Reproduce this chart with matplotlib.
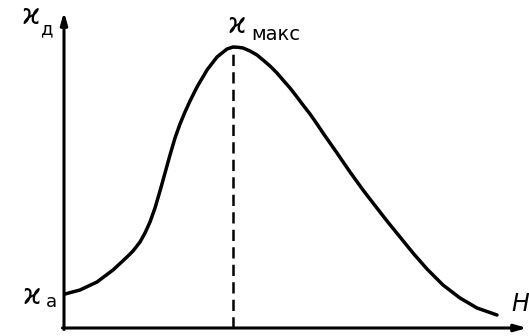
import matplotlib.pyplot as plt
import numpy as np

# кривая ϰ_д(H), значения (условные единицы)
H = [1, 16, 33, 49, 63, 69, 76, 81, 86, 91, 96, 101, 106, 111, 116, 121,
     126, 133, 143, 153, 163, 169, 174, 179, 186, 193, 199, 206, 213, 219,
     226, 233, 239, 246, 253, 259, 266, 273, 286, 299, 309, 323, 336, 349,
     363, 379, 396, 413, 433]
kappa = [34, 38, 46, 58, 71, 77, 86, 95, 106, 120, 137, 155, 173, 190, 204,
         216, 227, 241, 258, 271, 279, 281, 280.7, 280, 277, 273, 268, 262,
         255, 248, 240, 231, 223, 214, 204, 195, 185, 175, 156, 138, 125,
         107, 91, 75, 59, 43, 30, 20, 13]

H = np.array(H)
kappa = np.array(kappa)
i_max = np.argmax(kappa)

fig = plt.figure(figsize=(5.29, 3.36), dpi=100)
ax = fig.add_axes([0, 0, 1, 1])
ax.set_xlim(-64, 465)
ax.set_ylim(-8, 328)
ax.axis("off")

# оси со стрелками
arrow = dict(arrowstyle="-|>,head_length=0.7,head_width=0.2", lw=2.2, color="black",
             shrinkA=0, shrinkB=0)
ax.annotate("", xy=(0, 316), xytext=(0, -1.5), arrowprops=arrow)
ax.annotate("", xy=(463, 0), xytext=(-1.5, 0), arrowprops=arrow)

ax.plot(H, kappa, color="black", lw=2.5, solid_capstyle="round",
        solid_joinstyle="round")
ax.plot([H[i_max], H[i_max]], [0, kappa[i_max]], color="black", lw=1.8,
        linestyle=(0, (4.5, 2.5)))

fs = 20
sub = 14
ax.text(-33, 312, "ϰ", fontsize=fs, ha="center", va="center")
ax.text(-23, 299, "д", fontsize=sub - 1, ha="left", va="center")
ax.text(-32, 32, "ϰ", fontsize=fs, ha="center", va="center")
ax.text(-18, 26, "а", fontsize=sub - 1, ha="left", va="center")
ax.text(173, 303, "ϰ", fontsize=fs, ha="center", va="center")
ax.text(187, 294, "макс", fontsize=sub, ha="left", va="center")
ax.text(456, 24, "H", fontsize=17, style="italic", ha="center", va="center")

fig.savefig("out.png", dpi=100)
